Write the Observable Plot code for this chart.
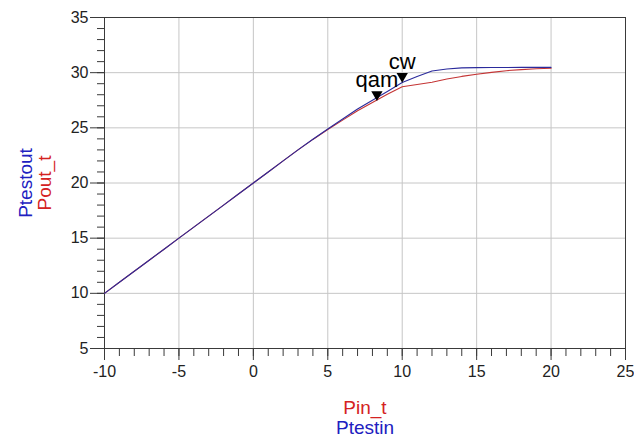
<!DOCTYPE html>
<html>
<head>
<meta charset="utf-8">
<script src="https://cdn.jsdelivr.net/npm/d3@7"></script>
<script src="https://cdn.jsdelivr.net/npm/@observablehq/plot@0.6"></script>
<style>
  html, body { margin: 0; padding: 0; background: #fff; }
  #chart { width: 634px; height: 437px; }
</style>
</head>
<body>
<div id="chart"></div>
<script>
// Input power (dBm)
const pin = [-10, -9, -8, -7, -6, -5, -4, -3, -2, -1, 0, 1, 2, 3, 4, 5, 6, 7, 8, 9, 10,
             11, 12, 13, 14, 15, 16, 17, 18, 19, 20];
// Ptestout (blue, cw)
const ptestout = [10, 11, 12, 13, 14, 15, 16, 17, 18, 19, 20, 21, 22, 23, 23.97, 24.9, 25.8, 26.7, 27.5, 28.3, 29.1,
                  29.65, 30.15, 30.33, 30.43, 30.46, 30.47, 30.47, 30.48, 30.48, 30.48];
// Pout_t (red, qam)
const pout_t = [10, 11, 12, 13, 14, 15, 16, 17, 18, 19, 20, 21, 22, 23, 23.95, 24.85, 25.7, 26.55, 27.3, 28.05, 28.72,
                28.93, 29.13, 29.42, 29.66, 29.85, 30.03, 30.18, 30.28, 30.35, 30.4];

// Markers
const markerNames = ["qam", "cw"];
const markerX = [8.3, 10];
const markerY = [27.45, 29.1];

// Ticks
const xTicks = [-10, -5, 0, 5, 10, 15, 20, 25];
const yTicks = [5, 10, 15, 20, 25, 30, 35];
const xMinor = d3.range(-10, 26, 1);
const yMinor = d3.range(5, 36, 1);

const blueLine = "#2b2b9c";
const redLine = "#c43434";
const blueText = "#2020c0";
const redText = "#d42222";

const blue = pin.map((x, i) => ({x, y: ptestout[i]}));
const red = pin.map((x, i) => ({x, y: pout_t[i]}));
const markers = markerNames.map((name, i) => ({name, x: markerX[i], y: markerY[i]}));

const chart = Plot.plot({
  width: 634,
  height: 437,
  marginLeft: 104,
  marginRight: 9,
  marginTop: 17,
  marginBottom: 89,
  style: {fontFamily: "'Liberation Sans', Arial, sans-serif", background: "#fff", color: "#222"},
  x: {domain: [-10, 25]},
  y: {domain: [5, 35]},
  marks: [
    Plot.gridX(xTicks, {stroke: "#c6c6c6", strokeOpacity: 1}),
    Plot.gridY(yTicks, {stroke: "#c6c6c6", strokeOpacity: 1}),
    Plot.frame({stroke: "#3a3a3a"}),
    Plot.line(red, {x: "x", y: "y", stroke: redLine, strokeWidth: 1.1}),
    Plot.line(blue, {x: "x", y: "y", stroke: blueLine, strokeWidth: 1.1}),
    Plot.dot(markers, {x: "x", y: "y", symbol: "triangle", rotate: 180, r: 4.2, fill: "#000", stroke: "none", dy: -6.4}),
    Plot.text(markers, {x: "x", y: "y", text: "name", fontSize: 22, fill: "#000", textAnchor: "middle", lineAnchor: "bottom", dy: -14}),
    Plot.axisX(xMinor, {tickSize: 8, text: null, label: null, stroke: "#3a3a3a"}),
    Plot.axisY(yMinor, {tickSize: 7, text: null, label: null, stroke: "#3a3a3a"}),
    Plot.axisX(xTicks, {tickSize: 12, tickPadding: 5, fontSize: 16, label: null, stroke: "#3a3a3a", tickFormat: d => String(d)}),
    Plot.axisY(yTicks, {tickSize: 14, tickPadding: 2, fontSize: 16, label: null, stroke: "#3a3a3a", tickFormat: d => String(d)}),
    Plot.text(["Pin_t"], {frameAnchor: "bottom", text: d => d, fill: redText, fontSize: 19, textAnchor: "middle", lineAnchor: "bottom", dy: 65}),
    Plot.text(["Ptestin"], {frameAnchor: "bottom", text: d => d, fill: blueText, fontSize: 19, textAnchor: "middle", lineAnchor: "bottom", dy: 85}),
    Plot.text(["Ptestout"], {frameAnchor: "left", text: d => d, fill: blueText, fontSize: 19, textAnchor: "middle", lineAnchor: "bottom", rotate: -90, dx: -73}),
    Plot.text(["Pout_t"], {frameAnchor: "left", text: d => d, fill: redText, fontSize: 19, textAnchor: "middle", lineAnchor: "bottom", rotate: -90, dx: -54})
  ]
});
document.getElementById("chart").appendChild(chart);
</script>
</body>
</html>
